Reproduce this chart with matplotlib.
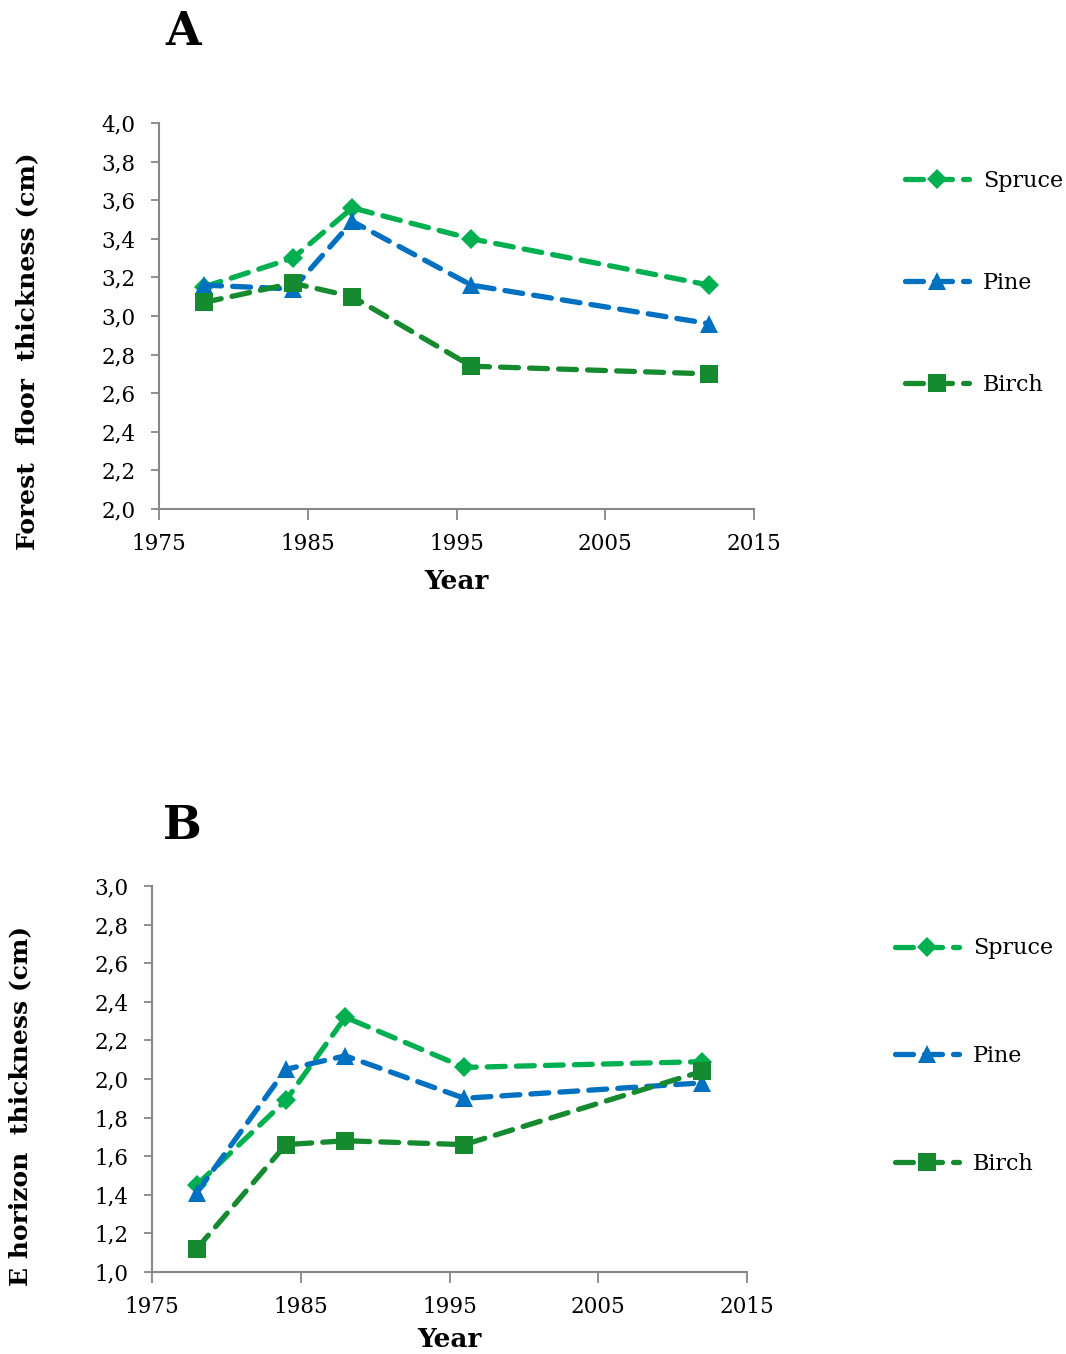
import matplotlib
matplotlib.use("Agg")
import matplotlib.pyplot as plt
from matplotlib.ticker import FixedLocator, FuncFormatter

plt.rcParams['font.family'] = ['DejaVu Serif']

years = [1978, 1984, 1988, 1996, 2012]

# Forest floor thickness (cm)
floor_spruce = [3.15, 3.30, 3.56, 3.40, 3.16]
floor_pine = [3.16, 3.14, 3.49, 3.16, 2.96]
floor_birch = [3.07, 3.17, 3.10, 2.74, 2.70]

# E horizon thickness (cm)
ehor_spruce = [1.45, 1.89, 2.32, 2.06, 2.09]
ehor_pine = [1.41, 2.05, 2.12, 1.90, 1.98]
ehor_birch = [1.12, 1.66, 1.68, 1.66, 2.04]

series_names = ["Spruce", "Pine", "Birch"]
x_ticks = [1975, 1985, 1995, 2005, 2015]

colors = {"Spruce": "#00B050", "Pine": "#0070C0", "Birch": "#168A2E"}
markers = {"Spruce": ("D", 10.5), "Pine": ("^", 13), "Birch": ("s", 12.5)}

W, H = 1066, 1354
fig = plt.figure(figsize=(W / 100, H / 100), dpi=100)

def fx(px):
    return px / W

def fy(py):
    return 1 - py / H

def panel(rect, data, ylim, ylabel, ylabel_y, xlabel_y, letter, letter_pos,
          legend_anchor, lspacing):
    ax = fig.add_axes(rect)
    for name, vals in zip(series_names, data):
        m, ms = markers[name]
        ax.plot(years, vals, color=colors[name], lw=3.8, ls=(0, (3.4, 2.1)),
                dash_capstyle='round', marker=m, markersize=ms,
                markeredgewidth=0, label=name)
    ax.set_xlim(1975, 2015)
    ax.set_ylim(*ylim)
    ax.xaxis.set_major_locator(FixedLocator(x_ticks))
    yt = [round(ylim[0] + 0.2 * i, 1) for i in range(11)]
    ax.yaxis.set_major_locator(FixedLocator(yt))
    ax.yaxis.set_major_formatter(FuncFormatter(lambda v, p: f"{v:.1f}".replace(".", ",")))
    for s in ("top", "right"):
        ax.spines[s].set_visible(False)
    for s in ("left", "bottom"):
        ax.spines[s].set_color("#878787")
        ax.spines[s].set_linewidth(1.5)
    ax.tick_params(axis='y', direction='out', length=6, width=1.3, color="#878787",
                   labelsize=15.5, pad=11)
    ax.tick_params(axis='x', direction='out', length=8, width=1.3, color="#878787",
                   labelsize=15.5, pad=9)
    ax.set_xlabel("Year", fontsize=19, fontweight='bold', va='center')
    ax.xaxis.set_label_coords(0.5, xlabel_y)
    ax.set_ylabel(ylabel, fontsize=18, fontweight='bold', va='center')
    ax.yaxis.set_label_coords(-0.222, ylabel_y)
    fig.text(fx(letter_pos[0]), fy(letter_pos[1]), letter, fontsize=33,
             fontweight='bold', ha='center', va='center')
    ax.legend(loc='center left', bbox_to_anchor=legend_anchor,
              bbox_transform=fig.transFigure, frameon=False, fontsize=16,
              handlelength=2.9, handletextpad=0.62, labelspacing=lspacing,
              borderpad=0, borderaxespad=0, numpoints=1)
    return ax

panel([fx(159), fy(509), fx(754 - 159), (509 - 123) / H],
      [floor_spruce, floor_pine, floor_birch], (2.0, 4.0),
      "Forest  floor  thickness (cm)", 0.41, -0.187, "A", (183, 32),
      (fx(905), fy(283)), 3.6)

panel([fx(152), fy(1272), fx(747 - 152), (1272 - 886) / H],
      [ehor_spruce, ehor_pine, ehor_birch], (1.0, 3.0),
      "E horizon  thickness (cm)", 0.43, -0.176, "B", (182, 826),
      (fx(895), fy(1056)), 3.85)

fig.savefig("out.png", dpi=100)
